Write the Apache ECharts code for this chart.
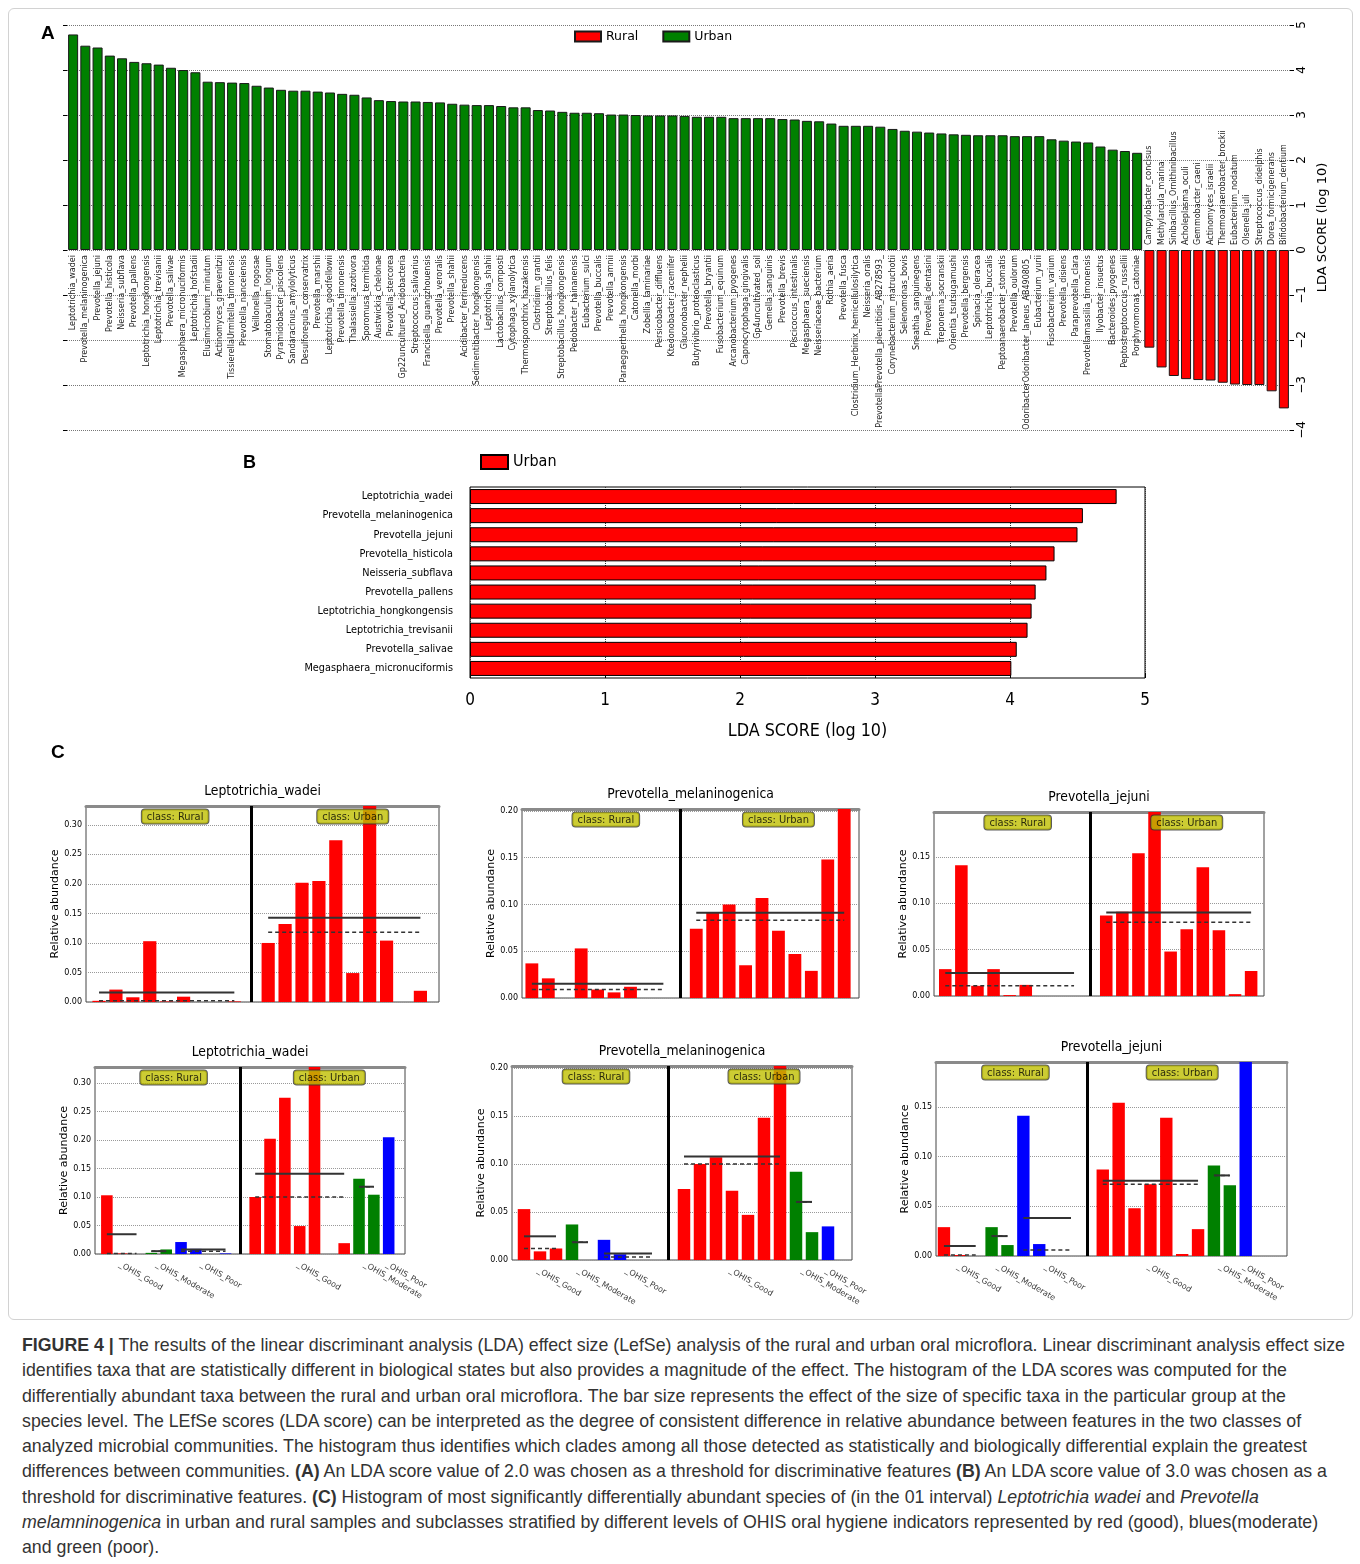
<!DOCTYPE html>
<html>
<head>
<meta charset="utf-8">
<script src="https://cdn.jsdelivr.net/npm/echarts@6/dist/echarts.min.js"></script>
<style>
  body { margin: 0; background: #fff; }
  #frame { position: absolute; left: 8px; top: 8px; width: 1343px; height: 1310px; border: 1px solid #d2d2d2; border-radius: 6px; }
  #chart { position: absolute; left: 0; top: 0; width: 1360px; height: 1322px; }
  #caption { position: absolute; left: 22px; top: 1333px; font-family: "Liberation Sans", Arial, sans-serif; font-size: 17.75px; line-height: 25.3px; color: #333; white-space: nowrap; }
</style>
</head>
<body>
<div id="frame"></div>
<div id="chart"></div>
<div id="caption">
  <div><b>FIGURE 4 |</b> The results of the linear discriminant analysis (LDA) effect size (LefSe) analysis of the rural and urban oral microflora. Linear discriminant analysis effect size</div>
  <div>identifies taxa that are statistically different in biological states but also provides a magnitude of the effect. The histogram of the LDA scores was computed for the</div>
  <div>differentially abundant taxa between the rural and urban oral microflora. The bar size represents the effect of the size of specific taxa in the particular group at the</div>
  <div>species level. The LEfSe scores (LDA score) can be interpreted as the degree of consistent difference in relative abundance between features in the two classes of</div>
  <div>analyzed microbial communities. The histogram thus identifies which clades among all those detected as statistically and biologically differential explain the greatest</div>
  <div>differences between communities. <b>(A)</b> An LDA score value of 2.0 was chosen as a threshold for discriminative features <b>(B)</b> An LDA score value of 3.0 was chosen as a</div>
  <div>threshold for discriminative features. <b>(C)</b> Histogram of most significantly differentially abundant species of (in the 01 interval) <i>Leptotrichia wadei</i> and <i>Prevotella</i></div>
  <div><i>melamninogenica</i> in urban and rural samples and subclasses stratified by different levels of OHIS oral hygiene indicators represented by red (good), blues(moderate)</div>
  <div>and green (poor).</div>
</div>
<script>
// ---- panel A: LDA scores ----
const urbanTaxa = [
  "Leptotrichia_wadei", "Prevotella_melaninogenica", "Prevotella_jejuni", "Prevotella_histicola",
  "Neisseria_subflava", "Prevotella_pallens", "Leptotrichia_hongkongensis", "Leptotrichia_trevisanii",
  "Prevotella_salivae", "Megasphaera_micronuciformis", "Leptotrichia_hofstadii", "Elusimicrobium_minutum",
  "Actinomyces_graevenitzii", "TissierellaUrmitella_timonensis", "Prevotella_nanceiensis", "Veillonella_rogosae",
  "Stomatobaculum_longum", "Pyramidobacter_piscolens", "Sandaracinus_amylolyticus", "Desulforegula_conservatrix",
  "Prevotella_marshii", "Leptotrichia_goodfellowii", "Prevotella_timonensis", "Thalassiella_azotivora",
  "Sporomusa_termitida", "Austwickia_chelonae", "Prevotella_stercorea", "Gp22uncultured_Acidobacteria",
  "Streptococcus_salivarius", "Francisella_guangzhouensis", "Prevotella_veroralis", "Prevotella_shahii",
  "Acidibacter_ferrireducens", "Sedimentibacter_hongkongensis", "Leptotrichia_shahii", "Lactobacillus_composti",
  "Cytophaga_xylanolytica", "Thermosporothrix_hazakensis", "Clostridium_grantii", "Streptobacillus_felis",
  "Streptobacillus_hongkongensis", "Pedobacter_hainanensis", "Eubacterium_sulci", "Prevotella_buccalis",
  "Prevotella_amnii", "Paraeggerthella_hongkongensis", "Catonella_morbi", "Zobellia_laminariae",
  "Persicobacter_diffluens", "Ktedonobacter_racemifer", "Gluconobacter_nephelii", "Butyrivibrio_proteoclasticus",
  "Prevotella_bryantii", "Fusobacterium_equinum", "Arcanobacterium_pyogenes", "Capnocytophaga_gingivalis",
  "Gp4uncultivated_soil", "Gemella_sanguinis", "Prevotella_brevis", "Piscicoccus_intestinalis",
  "Megasphaera_sueciensis", "Neisseriaceae_bacterium", "Rothia_aeria", "Prevotella_fusca",
  "Clostridium_Herbinix_hemicellulosilytica", "Neisseria_oralis", "PrevotellaPrevotella_pleuritidis_AB278593_",
  "Corynebacterium_matruchotii", "Selenomonas_bovis", "Sneathia_sanguinegens", "Prevotella_dentasini",
  "Treponema_socranskii", "Orientia_tsutsugamushi", "Prevotella_bergensis", "Spinacia_oleracea",
  "Leptotrichia_buccalis", "Peptoanaerobacter_stomatis", "Prevotella_oulorum",
  "OdoribacterOdoribacter_laneus_AB490805_", "Eubacterium_yurii", "Fusobacterium_varium", "Prevotella_disiens",
  "Paraprevotella_clara", "Prevotellamassilia_timonensis", "Ilyobacter_insuetus", "Bacteroides_pyogenes",
  "Peptostreptococcus_russellii", "Porphyromonas_catoniae"
];
const urbanLDA = [
  4.79, 4.54, 4.50, 4.32, 4.26, 4.18, 4.15, 4.12, 4.05, 4.00,
  3.95, 3.74, 3.73, 3.72, 3.71, 3.65, 3.61, 3.56, 3.54, 3.54,
  3.52, 3.50, 3.47, 3.45, 3.39, 3.33, 3.31, 3.30, 3.30, 3.29,
  3.28, 3.25, 3.23, 3.22, 3.22, 3.20, 3.17, 3.17, 3.11, 3.10,
  3.07, 3.05, 3.05, 3.04, 3.01, 3.01, 3.00, 2.99, 2.99, 2.99,
  2.98, 2.96, 2.96, 2.96, 2.93, 2.93, 2.93, 2.93, 2.91, 2.90,
  2.87, 2.86, 2.81, 2.76, 2.76, 2.76, 2.74, 2.69, 2.65, 2.63,
  2.61, 2.59, 2.57, 2.56, 2.55, 2.55, 2.55, 2.53, 2.53, 2.53,
  2.46, 2.43, 2.41, 2.39, 2.30, 2.23, 2.20, 2.16
];
const ruralTaxa = [
  "Campylobacter_concisus", "Methylarcula_marina", "Sinibacillus_Ornithinibacillus", "Acholeplasma_oculi",
  "Gemmobacter_caeni", "Actinomyces_israelii", "Thermoanaerobacter_brockii", "Eubacterium_nodatum",
  "Olsenella_uli", "Streptococcus_didelphis", "Dorea_formicigenerans", "Bifidobacterium_dentium"
];
const ruralLDA = [-2.17, -2.61, -2.80, -2.87, -2.89, -2.90, -2.95, -2.99, -3.00, -3.00, -3.14, -3.52];

// ---- panel B: top taxa, threshold 3.0 ----
const topTaxa = urbanTaxa.slice(0, 10);
const topLDA = [4.79, 4.54, 4.50, 4.33, 4.27, 4.19, 4.16, 4.13, 4.05, 4.01];

// ---- panel C: relative abundance per sample ----
const speciesNames = ["Leptotrichia_wadei", "Prevotella_melaninogenica", "Prevotella_jejuni"];
const wadeiRural = [0.002, 0.021, 0.008, 0.103, 0.001, 0.009, 0.000, 0.000, 0.001];
const wadeiUrban = [0.100, 0.132, 0.202, 0.205, 0.274, 0.049, 0.340, 0.104, 0.000, 0.019];
const melRural = [0.037, 0.021, 0.000, 0.053, 0.009, 0.006, 0.012, 0.000, 0.000];
const melUrban = [0.074, 0.092, 0.100, 0.035, 0.107, 0.072, 0.047, 0.029, 0.148, 0.206];
const jejRural = [0.029, 0.141, 0.011, 0.029, 0.001, 0.012, 0.000, 0.000, 0.000];
const jejUrban = [0.087, 0.091, 0.154, 0.210, 0.048, 0.072, 0.139, 0.071, 0.002, 0.027];
// OHIS subclass of each sample
const ruralOHIS = ["Moderate", "Poor", "Moderate", "Good", "Good", "Poor", "Good", "Poor", "Poor"];
const urbanOHIS = ["Good", "Moderate", "Good", "Poor", "Good", "Good", "Good", "Moderate", "Good", "Good"];
const ohisLevels = ["Good", "Moderate", "Poor"];
const ohisColor = { Good: "#ff0000", Moderate: "#008000", Poor: "#0000ff" };

const F = "DejaVu Sans";
const FC = "DejaVu Sans Condensed";

const chart = echarts.init(document.getElementById("chart"));

const grids = [], xAxes = [], yAxes = [], series = [];

// panel A
const aNames = urbanTaxa.concat(ruralTaxa);
const aUrban = urbanLDA.concat(ruralTaxa.map(() => "-"));
const aRural = urbanTaxa.map(() => "-").concat(ruralLDA);

grids.push({ left: 67, top: 25, width: 1223, height: 405, outerBoundsMode: "none" });
xAxes.push({
  type: "category", gridIndex: 0, data: aNames,
  axisLine: { show: false }, axisTick: { show: false }, axisLabel: { show: false }
});
yAxes.push({
  type: "value", gridIndex: 0, position: "right", min: -4, max: 5, interval: 1,
  axisLine: { show: false },
  axisTick: { show: true, length: 4, lineStyle: { color: "#000" } },
  axisLabel: {
    rotate: 90, fontSize: 12, fontFamily: F, color: "#000", margin: 6,
    formatter: v => (v < 0 ? "\u2212" + Math.abs(v) : String(v))
  },
  splitLine: { show: true, lineStyle: { type: "dotted", color: "#777" } },
  name: "LDA SCORE (log 10)", nameLocation: "middle", nameRotate: 90, nameGap: 24,
  nameTextStyle: { fontSize: 13, fontFamily: F, color: "#000" }
});
yAxes.push({
  type: "value", gridIndex: 0, position: "left", min: -4, max: 5, interval: 1,
  axisLine: { show: false }, axisLabel: { show: false }, splitLine: { show: false },
  axisTick: { show: true, length: 4, lineStyle: { color: "#000" } }
});
const aLabel = {
  show: true, rotate: 90, verticalAlign: "middle", distance: 5,
  fontSize: 8, fontFamily: F, color: "#222", formatter: p => p.name
};
series.push({
  type: "bar", name: "Rural", xAxisIndex: 0, yAxisIndex: 0, data: aRural,
  barGap: "-100%", barCategoryGap: "18%",
  itemStyle: { color: "#ff0000", borderColor: "#1a1a1a", borderWidth: 1 },
  label: Object.assign({}, aLabel, { position: "top", align: "left" })
});
series.push({
  type: "bar", name: "Urban", xAxisIndex: 0, yAxisIndex: 0, data: aUrban,
  barGap: "-100%", barCategoryGap: "18%",
  itemStyle: { color: "#008000", borderColor: "#1a1a1a", borderWidth: 1 },
  label: Object.assign({}, aLabel, { position: "bottom", align: "right" })
});

// panel B
grids.push({ left: 470, top: 487, width: 675, height: 191, show: true, borderColor: "#000", borderWidth: 1, outerBoundsMode: "none" });
xAxes.push({
  type: "value", gridIndex: 1, min: 0, max: 5, interval: 1,
  axisLine: { show: false },
  axisTick: { show: true, inside: true, length: 5, lineStyle: { color: "#000" } },
  axisLabel: { fontSize: 17, fontFamily: FC, color: "#000", margin: 14 },
  splitLine: { show: true, lineStyle: { type: "dotted", color: "#333" } },
  name: "LDA SCORE (log 10)", nameLocation: "middle", nameGap: 44,
  nameTextStyle: { fontSize: 17.8, fontFamily: FC, color: "#000" }
});
yAxes.push({
  type: "category", gridIndex: 1, data: topTaxa, inverse: true,
  axisLine: { show: false }, axisTick: { show: false },
  axisLabel: { fontSize: 10.8, fontFamily: FC, color: "#000", margin: 17 }
});
series.push({
  type: "bar", name: "Urban_B", xAxisIndex: 1, yAxisIndex: 2, data: topLDA, barWidth: 15,
  itemStyle: { color: "#ff0000", borderColor: "#000", borderWidth: 1 }
});

// panel C
const panelC = [
  { title: speciesNames[0], rural: wadeiRural, urban: wadeiUrban, ohis: false, box: { left: 86, top: 806, width: 353, height: 196 }, xmin: -0.77, xmax: 20.1, ymax: 0.332, nameGap: 25 },
  { title: speciesNames[1], rural: melRural, urban: melUrban, ohis: false, box: { left: 522, top: 809, width: 337, height: 189 }, xmin: -0.6, xmax: 19.9, ymax: 0.202, nameGap: 25 },
  { title: speciesNames[2], rural: jejRural, urban: jejUrban, ohis: false, box: { left: 934, top: 812, width: 330, height: 184 }, xmin: -0.7, xmax: 19.8, ymax: 0.1986, nameGap: 20 },
  { title: speciesNames[0], rural: wadeiRural, urban: wadeiUrban, ohis: true, box: { left: 95, top: 1067, width: 310, height: 187 }, xmin: -0.8, xmax: 20.1, ymax: 0.328, nameGap: 22 },
  { title: speciesNames[1], rural: melRural, urban: melUrban, ohis: true, box: { left: 512, top: 1066, width: 340, height: 194 }, xmin: -0.75, xmax: 20.5, ymax: 0.202, nameGap: 22 },
  { title: speciesNames[2], rural: jejRural, urban: jejUrban, ohis: true, box: { left: 936, top: 1062, width: 351, height: 194 }, xmin: -0.5, xmax: 21.6, ymax: 0.195, nameGap: 23 }
];

const mean = a => a.reduce((s, v) => s + v, 0) / a.length;
const median = a => {
  const s = a.slice().sort((x, y) => x - y), n = s.length;
  return n % 2 ? s[(n - 1) / 2] : (s[n / 2 - 1] + s[n / 2]) / 2;
};

// sample order within a class: plain, or grouped by OHIS subclass
function arrange(vals, subs, byOhis) {
  const idx = vals.map((v, i) => i);
  if (!byOhis) return [{ level: null, idx }];
  return ohisLevels.map(l => ({ level: l, idx: idx.filter(i => subs[i] === l) })).filter(g => g.idx.length);
}

function addSubplot(k, sp) {
  const gi = 2 + k, xb = 2 + 2 * k, yi = 3 + k;
  grids.push(Object.assign({ show: true, borderColor: "#444", borderWidth: 1, outerBoundsMode: "none" }, sp.box));
  xAxes.push({
    type: "value", gridIndex: gi, min: sp.xmin, max: sp.xmax,
    axisLine: { show: false }, axisTick: { show: false }, axisLabel: { show: false }, splitLine: { show: false }
  });
  xAxes.push({
    type: "value", gridIndex: gi, position: "top", min: sp.xmin, max: sp.xmax,
    axisLine: { show: true, lineStyle: { color: "#8a8a8a", width: 3 } },
    axisTick: { show: false }, axisLabel: { show: false }, splitLine: { show: false },
    name: sp.title, nameLocation: "middle", nameGap: 8,
    nameTextStyle: { fontSize: 13.8, fontFamily: FC, color: "#000" }
  });
  yAxes.push({
    type: "value", gridIndex: gi, min: 0, max: sp.ymax, interval: 0.05,
    axisLine: { show: false }, axisTick: { show: false },
    axisLabel: {
      fontSize: 8, fontFamily: F, color: "#000", margin: 4,
      formatter: v => (Math.abs(v / 0.05 - Math.round(v / 0.05)) < 1e-6 ? v.toFixed(2) : "")
    },
    splitLine: { show: true, lineStyle: { type: "dotted", color: "#999" } },
    name: "Relative abundance", nameLocation: "middle", nameRotate: 90, nameGap: sp.nameGap,
    nameTextStyle: { fontSize: 11, fontFamily: F, color: "#000" }
  });

  const nR = sp.rural.length;
  const classes = [
    { name: "Rural", vals: sp.rural, subs: ruralOHIS, start: 0 },
    { name: "Urban", vals: sp.urban, subs: urbanOHIS, start: nR + 1 }
  ];
  const bars = [], lines = [], ohisLabels = [];
  classes.forEach(c => {
    let slot = c.start;
    arrange(c.vals, c.subs, sp.ohis).forEach(g => {
      const first = slot;
      const gv = g.idx.map(i => c.vals[i]);
      g.idx.forEach(i => {
        bars.push({ value: [slot, c.vals[i]], itemStyle: { color: g.level ? ohisColor[g.level] : "#ff0000" } });
        slot++;
      });
      const last = slot - 1;
      lines.push({ from: first, to: last, y: mean(gv), dashed: false });
      lines.push({ from: first, to: last, y: median(gv), dashed: true });
      if (g.level) ohisLabels.push({ value: [(first + last) / 2, 0], name: "_OHIS_" + g.level });
    });
  });
  const bw = 0.78 * sp.box.width / (sp.xmax - sp.xmin);
  series.push({
    type: "bar", xAxisIndex: xb, yAxisIndex: yi, data: bars, barWidth: bw,
    markLine: {
      symbol: "none", silent: true, label: { show: false }, animation: false,
      lineStyle: { color: "#000", width: 3, type: "solid" },
      data: [{ xAxis: nR }]
    }
  });
  lines.forEach(l => {
    series.push({
      type: "line", xAxisIndex: xb, yAxisIndex: yi, symbol: "none", silent: true, z: 5,
      data: [[l.from, l.y], [l.to, l.y]],
      lineStyle: l.dashed ? { color: "#333", width: 1.5, type: [4, 3] } : { color: "#333", width: 2 }
    });
  });
  series.push({
    type: "scatter", xAxisIndex: xb, yAxisIndex: yi, symbolSize: 1, clip: false, silent: true, z: 6,
    itemStyle: { color: "transparent" },
    data: classes.map(c => ({ value: [c.start + c.vals.length / 2, sp.ymax], name: "class: " + c.name })),
    label: {
      show: true, position: "bottom", distance: 3, formatter: p => p.name,
      backgroundColor: "#bfbf00", borderColor: "#333", borderWidth: 1, borderRadius: 3,
      padding: [2, 5, 1, 5], fontSize: 11, fontFamily: FC, color: "#000"
    }
  });
  if (sp.ohis) {
    series.push({
      type: "scatter", xAxisIndex: xb, yAxisIndex: yi, symbolSize: 1, clip: false, silent: true,
      itemStyle: { color: "transparent" }, data: ohisLabels,
      label: {
        show: true, position: "bottom", distance: 6, rotate: -30, align: "left", verticalAlign: "top",
        formatter: p => p.name, fontSize: 8, fontFamily: F, color: "#000"
      }
    });
  }
}
panelC.forEach((sp, k) => addSubplot(k, sp));

chart.setOption({
  animation: false,
  backgroundColor: "transparent",
  grid: grids,
  xAxis: xAxes,
  yAxis: yAxes,
  series: series,
  legend: [
    {
      data: ["Rural", "Urban"], left: 569, top: 25, icon: "rect", itemWidth: 26, itemHeight: 10, itemGap: 24,
      textStyle: { fontSize: 12.5, fontFamily: F, color: "#000" }
    },
    {
      data: ["Urban_B"], formatter: () => "Urban", left: 475, top: 449, icon: "rect", itemWidth: 27, itemHeight: 14,
      textStyle: { fontSize: 16, fontFamily: FC, color: "#000" }
    }
  ],
  graphic: [
    { type: "text", left: 41, top: 24, style: { text: "A", font: "bold 19px 'Liberation Sans'", fill: "#000" } },
    { type: "text", left: 243, top: 454, style: { text: "B", font: "bold 18px 'Liberation Sans'", fill: "#000" } },
    { type: "text", left: 51, top: 743, style: { text: "C", font: "bold 19px 'Liberation Sans'", fill: "#000" } }
  ]
});
</script>
</body>
</html>
